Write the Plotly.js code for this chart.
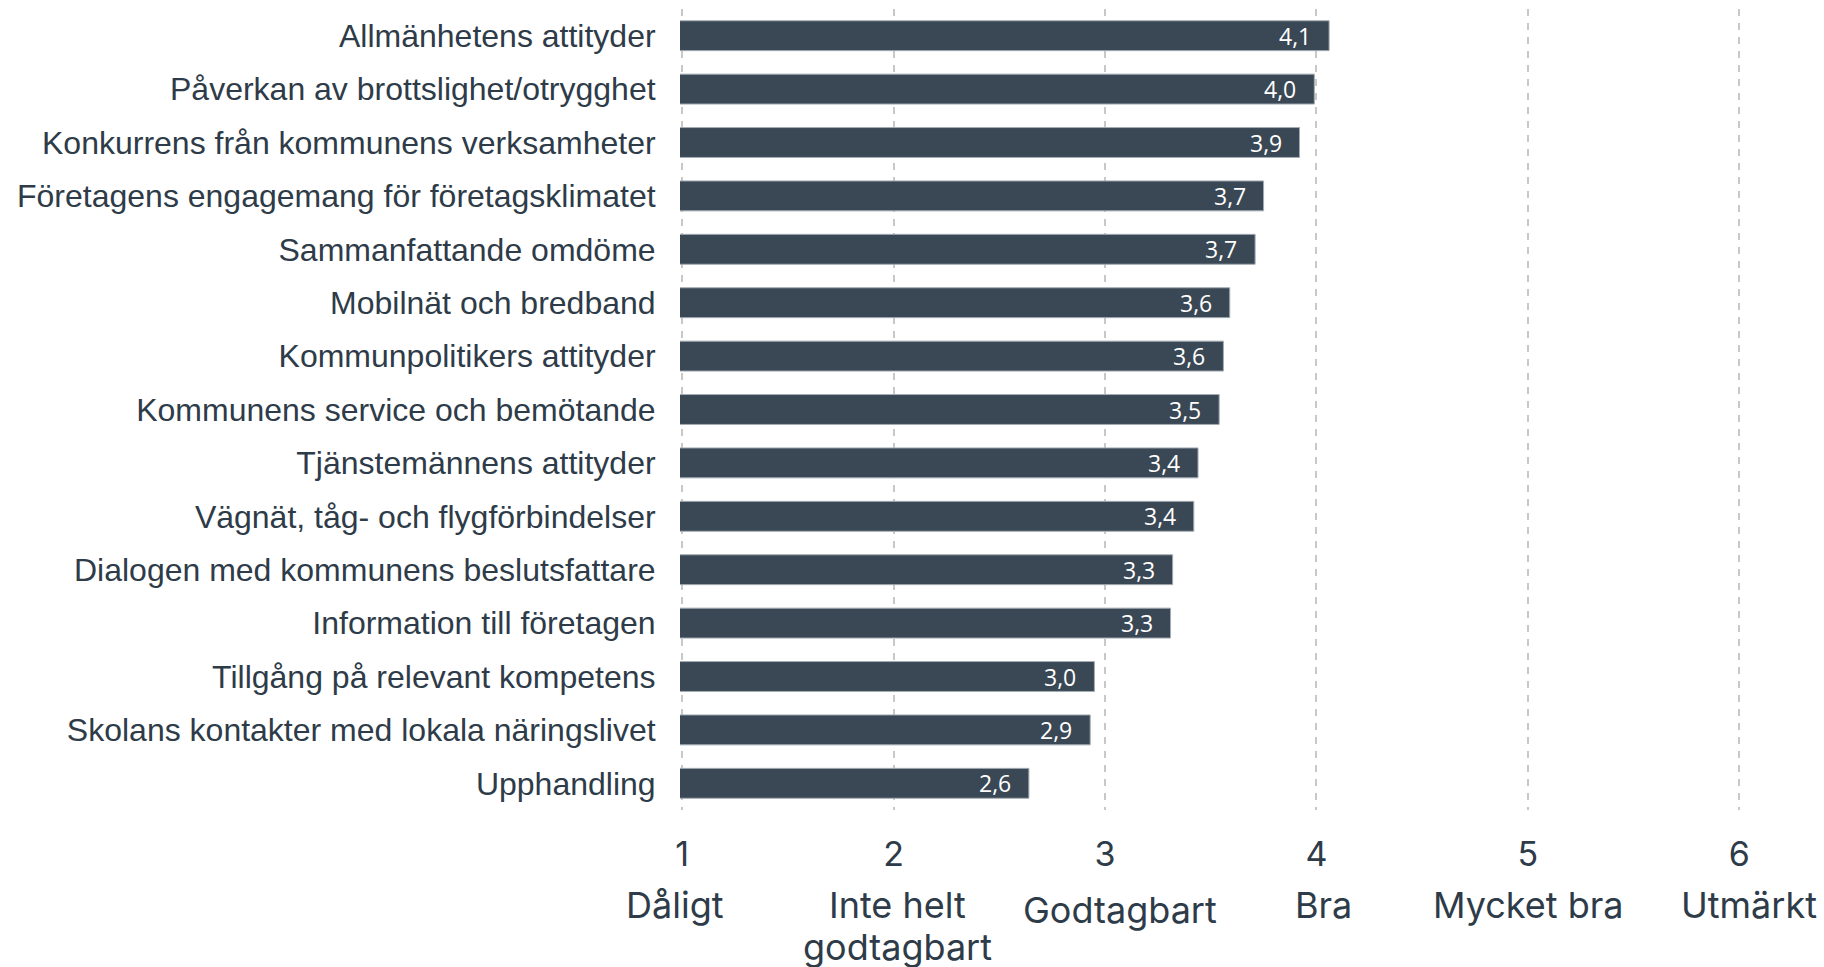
<!DOCTYPE html>
<html>
<head>
<meta charset="utf-8">
<script src="https://cdn.plot.ly/plotly-3.0.1.min.js"></script>
<style>html,body{margin:0;padding:0;background:#fff;}#chart{width:1824px;height:967px;}</style>
</head>
<body>
<div id="chart"></div>
<script>
const categories = [
  'Allmänhetens attityder',
  'Påverkan av brottslighet/otrygghet',
  'Konkurrens från kommunens verksamheter',
  'Företagens engagemang för företagsklimatet',
  'Sammanfattande omdöme',
  'Mobilnät och bredband',
  'Kommunpolitikers attityder',
  'Kommunens service och bemötande',
  'Tjänstemännens attityder',
  'Vägnät, tåg- och flygförbindelser',
  'Dialogen med kommunens beslutsfattare',
  'Information till företagen',
  'Tillgång på relevant kompetens',
  'Skolans kontakter med lokala näringslivet',
  'Upphandling'
];
const values = [4.06, 3.99, 3.92, 3.75, 3.71, 3.59, 3.56, 3.54, 3.44, 3.42, 3.32, 3.31, 2.95, 2.93, 2.64];
const valueLabels = ['4,1','4,0','3,9','3,7','3,7','3,6','3,6','3,5','3,4','3,4','3,3','3,3','3,0','2,9','2,6'];
const tickValues = [1, 2, 3, 4, 5, 6];
const tickNumbers = ['1', '2', '3', '4', '5', '6'];
const scaleLabels = [['Dåligt'], ['Inte helt', 'godtagbart'], ['Godtagbart'], ['Bra'], ['Mycket bra'], ['Utmärkt']];

const textColor = '#2e3b48';
const barColor = '#3a4855';
const scaleShift = [-7, 4, 15, 7, 0, 10];
const scaleYShift = [0, 0, 5, 0, 0, 0];

const annotations = [];
categories.forEach((c, i) => {
  annotations.push({
    x: values[i], y: c, xref: 'x', yref: 'y',
    text: valueLabels[i], showarrow: false,
    xanchor: 'right', yanchor: 'middle', xshift: -16,
    font: {family: 'Open Sans', size: 23, color: '#ffffff'}
  });
});
scaleLabels.forEach((lines, i) => {
  lines.forEach((line, j) => {
    annotations.push({
      x: tickValues[i], y: 0, xref: 'x', yref: 'paper',
      text: line, showarrow: false,
      xanchor: 'center', yanchor: 'middle',
      xshift: scaleShift[i], yshift: -95 - scaleYShift[i] - 42 * j,
      font: {family: 'Inter', size: 36, color: textColor}
    });
  });
});

const trace = {
  type: 'bar', orientation: 'h',
  x: values, y: categories,
  marker: {color: barColor, line: {color: '#a3abb3', width: 1}},
  hoverinfo: 'none'
};

const layout = {
  width: 1824, height: 967,
  margin: {l: 680, r: 72, t: 9, b: 157, pad: 0},
  paper_bgcolor: '#ffffff', plot_bgcolor: '#ffffff',
  showlegend: false,
  bargap: 0.44,
  xaxis: {
    range: [0.99, 6.06],
    tickmode: 'array', tickvals: tickValues, ticktext: tickNumbers,
    tickfont: {family: 'Inter', size: 34, color: textColor},
    ticks: 'outside', ticklen: 14, tickcolor: 'rgba(0,0,0,0)',
    showgrid: true, gridcolor: '#c8c8c8', gridwidth: 2, griddash: '7px,7px',
    zeroline: false, showline: false, fixedrange: true
  },
  yaxis: {
    type: 'category', autorange: 'reversed',
    tickfont: {family: 'Liberation Sans', size: 32, color: textColor},
    ticks: 'outside', ticklen: 17, tickcolor: 'rgba(0,0,0,0)',
    showgrid: false, zeroline: false, showline: false, fixedrange: true
  },
  annotations: annotations
};

Plotly.newPlot('chart', [trace], layout, {displayModeBar: false, staticPlot: true});
</script>
</body>
</html>
